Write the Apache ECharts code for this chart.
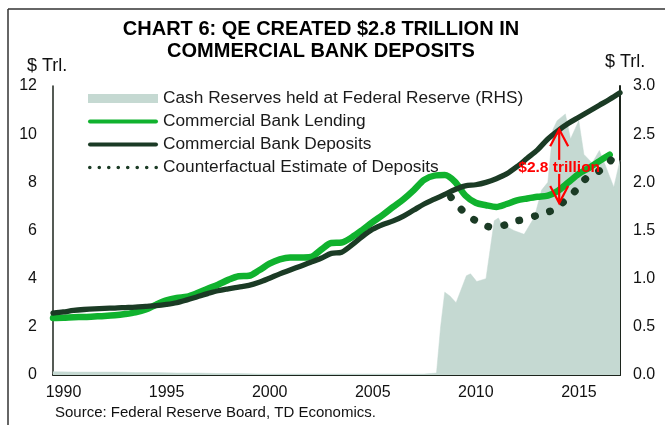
<!DOCTYPE html>
<html>
<head>
<meta charset="utf-8">
<script src="https://cdn.jsdelivr.net/npm/echarts@6/dist/echarts.min.js"></script>
<style>
  html, body { margin: 0; padding: 0; background: #ffffff; }
  #chart { width: 665px; height: 425px; }
</style>
</head>
<body>
<div id="chart"></div>
<script>
// Half-yearly observation dates shared by the lending and deposit series
const halfYears = [
  1990, 1990.5, 1991, 1991.5, 1992, 1992.5, 1993, 1993.5, 1994, 1994.5,
  1995, 1995.5, 1996, 1996.5, 1997, 1997.5, 1998, 1998.5, 1999, 1999.5,
  2000, 2000.5, 2001, 2001.5, 2002, 2002.5, 2003, 2003.5, 2004, 2004.5,
  2005, 2005.5, 2006, 2006.5, 2007, 2007.5, 2008, 2008.5, 2009, 2009.5,
  2010, 2010.5, 2011, 2011.5, 2012, 2012.5, 2013, 2013.5, 2014, 2014.5,
  2015, 2015.5, 2016, 2016.5, 2017, 2017.5
];

// Commercial bank lending, $ trillions (LHS)
const lending = [
  2.37, 2.38, 2.40, 2.41, 2.43, 2.45, 2.48, 2.53, 2.60, 2.72,
  2.92, 3.10, 3.20, 3.25, 3.40, 3.58, 3.75, 3.95, 4.10, 4.12,
  4.35, 4.62, 4.80, 4.88, 4.88, 4.90, 5.20, 5.48, 5.50, 5.72,
  6.02, 6.35, 6.65, 6.98, 7.30, 7.68, 8.10, 8.28, 8.30, 8.02,
  7.45, 7.15, 7.05, 6.98, 7.10, 7.25, 7.33, 7.40, 7.45, 7.65,
  8.00, 8.35, 8.60, 8.88, 9.15, null
];

// Commercial bank deposits, $ trillions (LHS)
const deposits = [
  2.57, 2.62, 2.68, 2.72, 2.75, 2.77, 2.78, 2.80, 2.82, 2.85,
  2.88, 2.93, 3.00, 3.12, 3.25, 3.38, 3.50, 3.58, 3.65, 3.72,
  3.85, 4.02, 4.20, 4.36, 4.52, 4.68, 4.85, 5.05, 5.10, 5.40,
  5.75, 6.05, 6.25, 6.40, 6.60, 6.85, 7.10, 7.30, 7.50, 7.70,
  7.85, 7.90, 8.00, 8.15, 8.35, 8.65, 9.00, 9.35, 9.80, 10.15,
  10.45, 10.70, 10.95, 11.20, 11.45, 11.72
];

// Counterfactual estimate of deposits without QE, $ trillions (LHS)
const counterDates = [
  2009.3, 2009.8, 2010.3, 2010.8, 2011.3, 2011.8, 2012.3, 2012.8, 2013.3,
  2013.8, 2014.3, 2014.8, 2015.3, 2015.8, 2016.3, 2016.8, 2017.1
];
const counterfactual = [
  7.38, 6.88, 6.52, 6.28, 6.14, 6.20, 6.35, 6.46, 6.58,
  6.72, 6.87, 7.22, 7.62, 8.12, 8.38, 8.65, 8.97
];

// Cash reserves held at the Federal Reserve, $ trillions (RHS)
const reserveDates = [
  1990, 1991, 1992, 1993, 1994, 1995, 1996, 1997, 1998, 1999,
  2000, 2001, 2002, 2003, 2004, 2005, 2006, 2007, 2008, 2008.6,
  2008.8, 2009.0, 2009.25, 2009.55, 2010.05, 2010.25, 2010.55, 2011.0, 2011.2, 2011.4,
  2011.6, 2011.75, 2012.35, 2012.85, 2013.35, 2013.7, 2014.0, 2014.25, 2014.45, 2014.85,
  2015.1, 2015.5, 2015.75, 2016.15, 2016.5, 2016.8, 2017.2, 2017.5
];
const reserves = [
  0.035, 0.03, 0.03, 0.03, 0.025, 0.025, 0.02, 0.02, 0.015, 0.015,
  0.01, 0.01, 0.01, 0.01, 0.01, 0.01, 0.01, 0.01, 0.01, 0.02,
  0.50, 0.86, 0.82, 0.75, 1.03, 1.05, 0.97, 1.00, 1.30, 1.60,
  1.63, 1.57, 1.50, 1.46, 1.64, 1.92, 2.00, 2.55, 2.64, 2.71,
  2.45, 2.64, 2.29, 2.20, 2.33, 2.17, 1.95, 2.23
];

// Axis ranges and tick labels
const yearTicks = [1990, 1995, 2000, 2005, 2010, 2015];
const leftMax = 12, leftStep = 2;
const rightMax = 3.0, rightStep = 0.5;

// "$2.8 trillion" gap annotation, in data units of the left axis
const gapYear = 2014.55;
const gapTop = 10.2;      // deposits
const gapBottom = 7.14;   // counterfactual
const gapLabelValue = 8.6;
const gapText = '$2.8 trillion';

const names = {
  reserves: 'Cash Reserves held at Federal Reserve (RHS)',
  lending: 'Commercial Bank Lending',
  deposits: 'Commercial Bank Deposits',
  counter: 'Counterfactual Estimate of Deposits'
};

const colors = {
  reserves: '#c5d9d2',
  lending: '#10b22e',
  deposits: '#1b3b25',
  axis: '#1c241c'
};

const FONT = "'Liberation Sans', Arial, sans-serif";

function zip(xs, ys) {
  const out = [];
  for (let i = 0; i < xs.length; i++) {
    if (ys[i] !== null && ys[i] !== undefined) out.push([xs[i], ys[i]]);
  }
  return out;
}

// Eight small round dots for the counterfactual legend key
function dotsIcon() {
  let d = '';
  const r = 1.8;
  for (let i = 0; i < 8; i++) {
    const cx = r + i * 9.45;
    d += 'M' + (cx - r) + ',' + r + ' a' + r + ',' + r + ' 0 1,0 ' + (2 * r) + ',0 a' + r + ',' + r + ' 0 1,0 ' + (-2 * r) + ',0 Z ';
  }
  return 'path://' + d;
}

const pillIcon = 'path://M2,0 H68 A2,2 0 0,1 68,4 H2 A2,2 0 0,1 2,0 Z';

const chart = echarts.init(document.getElementById('chart'), null, { renderer: 'canvas' });

const option = {
  animation: false,
  backgroundColor: '#ffffff',
  textStyle: { fontFamily: FONT },
  grid: { left: 53, right: 45, top: 86, bottom: 50, containLabel: false },
  legend: {
    orient: 'vertical',
    left: 88,
    top: 90,
    padding: 0,
    itemWidth: 70,
    itemHeight: 9,
    itemGap: 6,
    selectedMode: false,
    textStyle: { fontSize: 17.3, color: '#1a1a1a', fontFamily: FONT },
    itemStyle: { borderWidth: 0 },
    data: [
      { name: names.reserves, icon: 'rect', itemStyle: { color: colors.reserves, borderWidth: 0 } },
      { name: names.lending, icon: pillIcon, itemStyle: { color: colors.lending, borderWidth: 0 } },
      { name: names.deposits, icon: pillIcon, itemStyle: { color: colors.deposits, borderWidth: 0 } },
      { name: names.counter, icon: dotsIcon(), itemStyle: { color: colors.deposits, borderWidth: 0 } }
    ]
  },
  xAxis: {
    type: 'value',
    min: 1990,
    max: 2017.5,
    interval: 5,
    axisLine: { show: true, lineStyle: { color: colors.axis, width: 2 } },
    axisTick: { show: false },
    splitLine: { show: false },
    axisLabel: {
      fontSize: 16,
      color: '#111',
      fontFamily: FONT,
      margin: 10,
      padding: [0, 0, 0, 21],
      formatter: v => (yearTicks.indexOf(v) >= 0 ? String(v) : '')
    }
  },
  yAxis: [
    {
      type: 'value',
      min: 0,
      max: leftMax,
      interval: leftStep,
      axisLine: { show: true, lineStyle: { color: colors.axis, width: 1.5 } },
      axisTick: { show: false },
      splitLine: { show: false },
      axisLabel: { fontSize: 16, color: '#111', fontFamily: FONT, margin: 16 }
    },
    {
      type: 'value',
      min: 0,
      max: rightMax,
      interval: rightStep,
      position: 'right',
      axisLine: { show: true, lineStyle: { color: colors.axis, width: 2 } },
      axisTick: { show: false },
      splitLine: { show: false },
      axisLabel: {
        fontSize: 16, color: '#111', fontFamily: FONT, margin: 13,
        formatter: v => v.toFixed(1)
      }
    }
  ],
  series: [
    {
      name: names.reserves,
      type: 'line',
      yAxisIndex: 1,
      data: zip(reserveDates, reserves),
      symbol: 'none',
      color: colors.reserves,
      lineStyle: { width: 0.5, color: colors.reserves },
      areaStyle: { color: colors.reserves, opacity: 1 },
      z: 1
    },
    {
      name: names.lending,
      type: 'line',
      data: zip(halfYears, lending),
      symbol: 'none',
      smooth: 0.3,
      color: colors.lending,
      lineStyle: { width: 6.5, color: colors.lending, cap: 'round', join: 'round' },
      z: 2
    },
    {
      name: names.deposits,
      type: 'line',
      data: zip(halfYears, deposits),
      symbol: 'none',
      smooth: 0.3,
      color: colors.deposits,
      lineStyle: { width: 5.3, color: colors.deposits, cap: 'round', join: 'round' },
      z: 3
    },
    {
      name: names.counter,
      type: 'line',
      data: zip(counterDates, counterfactual),
      symbol: 'none',
      smooth: 0.4,
      color: colors.deposits,
      lineStyle: { width: 7.5, color: colors.deposits, type: [0.5, 15.5], cap: 'round' },
      z: 4
    }
  ]
};

chart.setOption(option);

// Static text and frame, plus the gap annotation placed through the axes
const toPx = (x, y) => chart.convertToPixel({ xAxisIndex: 0, yAxisIndex: 0 }, [x, y]);
const pTop = toPx(gapYear, gapTop);
const pBottom = toPx(gapYear, gapBottom);
const pLabel = toPx(gapYear, gapLabelValue);
const red = '#ff0000';
const headW = 9, headH = 17;

chart.setOption({
  graphic: [
    // frame
    { type: 'line', shape: { x1: 8, y1: 9, x2: 8, y2: 425 }, style: { stroke: '#333', lineWidth: 1.5 }, silent: true },
    { type: 'line', shape: { x1: 8, y1: 9, x2: 665, y2: 9 }, style: { stroke: '#333', lineWidth: 1.5 }, silent: true },
    // title
    { type: 'text', x: 321, y: 29, style: { text: 'CHART 6: QE CREATED $2.8 TRILLION IN', fontSize: 20, fontWeight: 'bold', fontFamily: FONT, fill: '#000', align: 'center', verticalAlign: 'middle' } },
    { type: 'text', x: 321, y: 51, style: { text: 'COMMERCIAL BANK DEPOSITS', fontSize: 20, fontWeight: 'bold', fontFamily: FONT, fill: '#000', align: 'center', verticalAlign: 'middle' } },
    // axis units
    { type: 'text', x: 27, y: 66, style: { text: '$ Trl.', fontSize: 18, fontFamily: FONT, fill: '#111', align: 'left', verticalAlign: 'middle' } },
    { type: 'text', x: 605, y: 62, style: { text: '$ Trl.', fontSize: 18, fontFamily: FONT, fill: '#111', align: 'left', verticalAlign: 'middle' } },
    // source
    { type: 'text', x: 55, y: 413, style: { text: 'Source: Federal Reserve Board, TD Economics.', fontSize: 15, fontFamily: FONT, fill: '#111', align: 'left', verticalAlign: 'middle' } },
    // up arrow to deposits
    { type: 'polyline', z: 100, shape: { points: [[pTop[0], pLabel[1] - 8], [pTop[0], pTop[1]]] }, style: { stroke: red, lineWidth: 2.2, fill: null } },
    { type: 'polyline', z: 100, shape: { points: [[pTop[0] - headW, pTop[1] + headH], [pTop[0], pTop[1]], [pTop[0] + headW, pTop[1] + headH]] }, style: { stroke: red, lineWidth: 2.2, fill: null } },
    // down arrow to counterfactual
    { type: 'polyline', z: 100, shape: { points: [[pBottom[0], pLabel[1] + 6], [pBottom[0], pBottom[1]]] }, style: { stroke: red, lineWidth: 2.2, fill: null } },
    { type: 'polyline', z: 100, shape: { points: [[pBottom[0] - headW, pBottom[1] - headH], [pBottom[0], pBottom[1]], [pBottom[0] + headW, pBottom[1] - headH]] }, style: { stroke: red, lineWidth: 2.2, fill: null } },
    // label
    { type: 'text', z: 101, x: pLabel[0], y: pLabel[1], style: { text: gapText, fontSize: 15.5, fontWeight: 'bold', fontFamily: FONT, fill: red, align: 'center', verticalAlign: 'middle' } }
  ]
});
</script>
</body>
</html>
